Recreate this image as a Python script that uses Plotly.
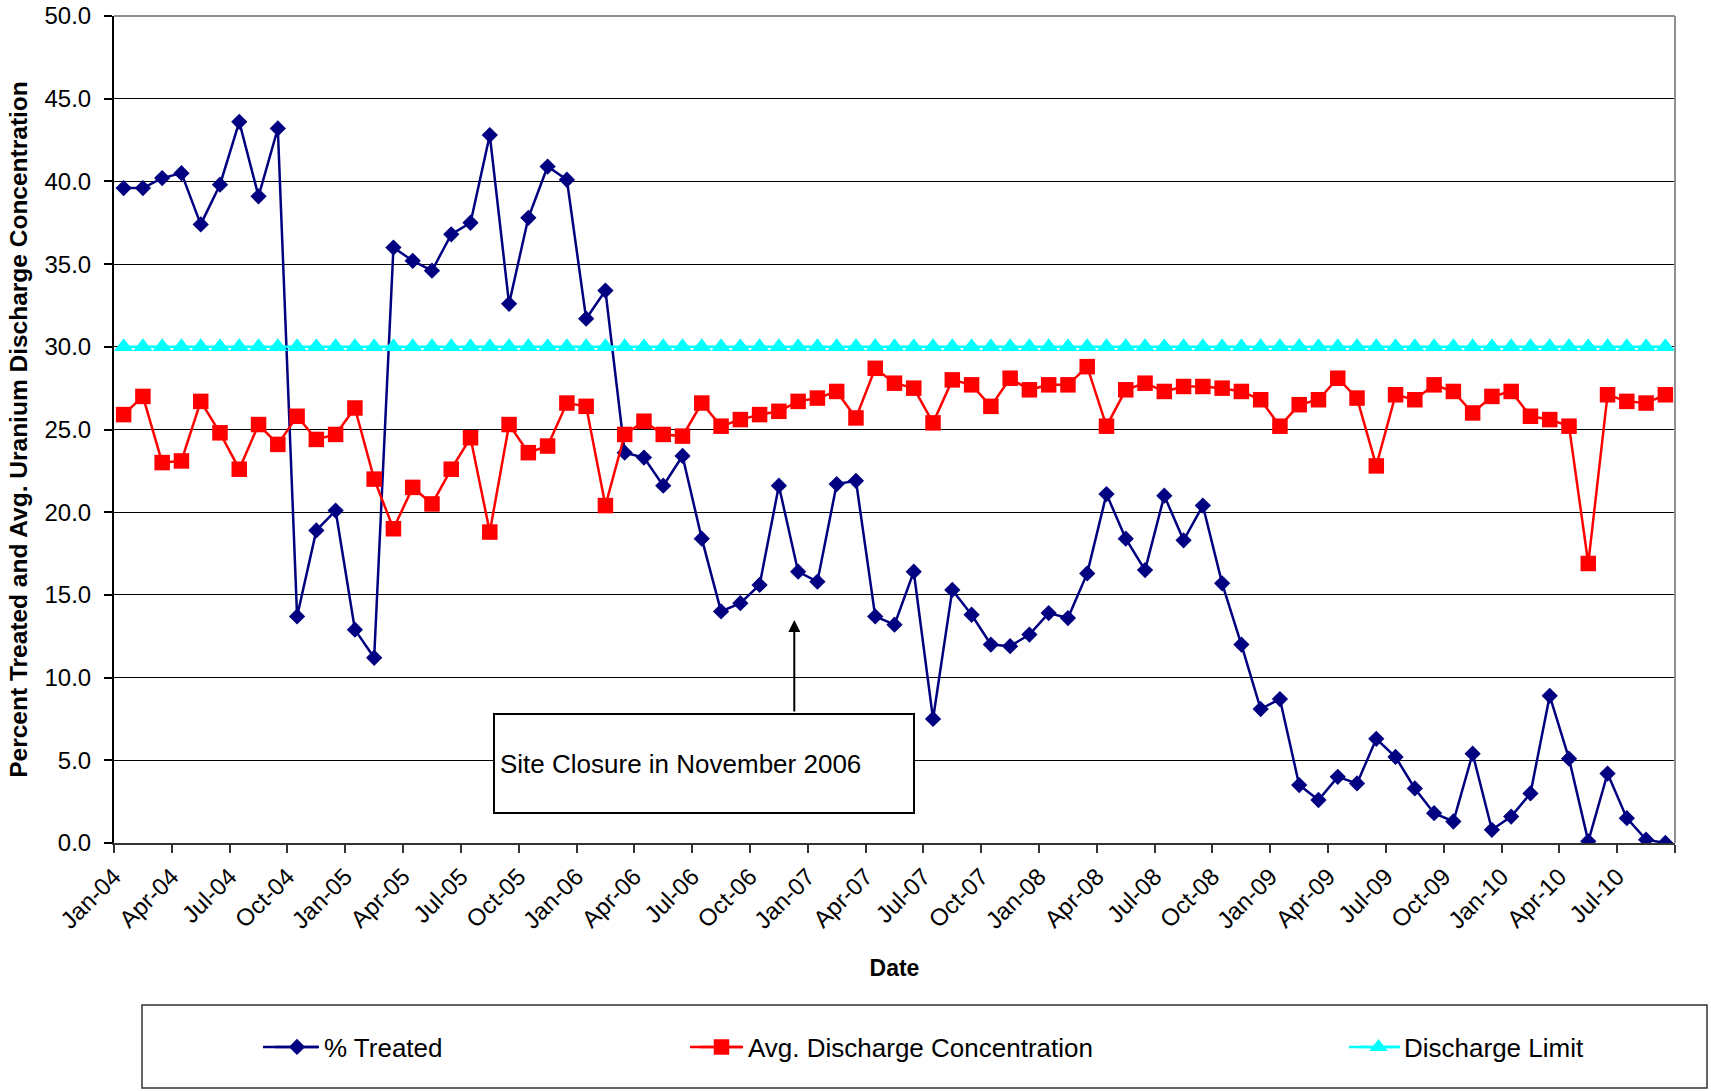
import plotly.graph_objects as go

# Monthly series, Jan-04 through Sep-10
pct_treated = [
    39.6, 39.6, 40.2, 40.5, 37.4, 39.8, 43.6, 39.1, 43.2, 13.7, 18.9, 20.1,
    12.9, 11.2, 36.0, 35.2, 34.6, 36.8, 37.5, 42.8, 32.6, 37.8, 40.9, 40.1,
    31.7, 33.4, 23.6, 23.3, 21.6, 23.4, 18.4, 14.0, 14.5, 15.6, 21.6, 16.4,
    15.8, 21.7, 21.9, 13.7, 13.2, 16.4, 7.5, 15.3, 13.8, 12.0, 11.9, 12.6,
    13.9, 13.6, 16.3, 21.1, 18.4, 16.5, 21.0, 18.3, 20.4, 15.7, 12.0, 8.1,
    8.7, 3.5, 2.6, 4.0, 3.6, 6.3, 5.2, 3.3, 1.8, 1.3, 5.4, 0.8,
    1.6, 3.0, 8.9, 5.1, 0.1, 4.2, 1.5, 0.2, 0.0,
]
avg_discharge = [
    25.9, 27.0, 23.0, 23.1, 26.7, 24.8, 22.6, 25.3, 24.1, 25.8, 24.4, 24.7,
    26.3, 22.0, 19.0, 21.5, 20.5, 22.6, 24.5, 18.8, 25.3, 23.6, 24.0, 26.6,
    26.4, 20.4, 24.7, 25.5, 24.7, 24.6, 26.6, 25.2, 25.6, 25.9, 26.1, 26.7,
    26.9, 27.3, 25.7, 28.7, 27.8, 27.5, 25.4, 28.0, 27.7, 26.4, 28.1, 27.4,
    27.7, 27.7, 28.8, 25.2, 27.4, 27.8, 27.3, 27.6, 27.6, 27.5, 27.3, 26.8,
    25.2, 26.5, 26.8, 28.1, 26.9, 22.8, 27.1, 26.8, 27.7, 27.3, 26.0, 27.0,
    27.3, 25.8, 25.6, 25.2, 16.9, 27.1, 26.7, 26.6, 27.1,
]
discharge_limit = [30.0] * len(pct_treated)

# Quarterly tick labels on the category boundaries
tick_labels = [
    "Jan-04", "Apr-04", "Jul-04", "Oct-04", "Jan-05", "Apr-05", "Jul-05",
    "Oct-05", "Jan-06", "Apr-06", "Jul-06", "Oct-06", "Jan-07", "Apr-07",
    "Jul-07", "Oct-07", "Jan-08", "Apr-08", "Jul-08", "Oct-08", "Jan-09",
    "Apr-09", "Jul-09", "Oct-09", "Jan-10", "Apr-10", "Jul-10",
]

# Closure marker position (month index, value) and the callout box
closure_month = 34.8
closure_tip = 13.48
closure_tail = 7.86
closure_text = "Site Closure in November 2006"

months = list(range(len(pct_treated)))
tick_vals = [3 * k - 0.5 for k in range(len(tick_labels))] + [len(months) - 0.5]
tick_text = tick_labels + [""]

FONT = "Liberation Sans, Arial, sans-serif"
NAVY, RED, CYAN = "#000080", "#FF0000", "#00FFFF"

fig = go.Figure()
fig.add_trace(go.Scatter(
    x=months, y=pct_treated, name="% Treated", mode="lines+markers",
    line=dict(color=NAVY, width=2.5),
    marker=dict(symbol="diamond", size=12.5, color=NAVY),
    legend="legend",
))
fig.add_trace(go.Scatter(
    x=months, y=avg_discharge, name="Avg. Discharge Concentration",
    mode="lines+markers",
    line=dict(color=RED, width=2.5),
    marker=dict(symbol="square", size=15.5, color=RED),
    legend="legend2",
))
fig.add_trace(go.Scatter(
    x=months, y=discharge_limit, name="Discharge Limit", mode="lines+markers",
    line=dict(color=CYAN, width=2.5),
    marker=dict(symbol="triangle-up", size=17, color=CYAN),
    legend="legend3",
))

L, R, T, B = 114, 36, 16, 248
W, H = 1711, 1091
pw, ph = W - L - R, H - T - B
LEG_Y = 1047


def px_x(px):
    return (px - L) / pw


def px_y(py):
    return (H - B - py) / ph


legend_common = dict(
    orientation="h", yanchor="middle", xanchor="left",
    xref="container", yref="container",
    y=1 - LEG_Y / H, bgcolor="rgba(0,0,0,0)", borderwidth=0,
    font=dict(family=FONT, size=26, color="black"),
)

fig.update_layout(
    width=W, height=H,
    margin=dict(l=L, r=R, t=T, b=B, pad=0, autoexpand=False),
    paper_bgcolor="white", plot_bgcolor="white",
    font=dict(family=FONT, color="black"),
    showlegend=True,
    legend=dict(legend_common, x=270 / W, itemwidth=44),
    legend2=dict(legend_common, x=695 / W, itemwidth=43),
    legend3=dict(legend_common, x=1353 / W, itemwidth=41),
    xaxis=dict(
        range=[-0.5, len(months) - 0.5], automargin=False,
        tickmode="array", tickvals=tick_vals, ticktext=tick_text,
        tickangle=-45, ticks="outside", ticklen=8, tickwidth=1.5,
        tickcolor="#333", showgrid=False, zeroline=False,
        showline=True, linecolor="#333", linewidth=2,
        tickfont=dict(family=FONT, size=24, color="black"),
        title=dict(text="<b>Date</b>", standoff=27,
                   font=dict(family=FONT, size=23, color="black")),
    ),
    yaxis=dict(
        range=[0, 50], dtick=5, tick0=0, tickformat=".1f", automargin=False,
        ticks="outside", ticklen=8, tickwidth=1.5, tickcolor="black",
        showgrid=True, gridcolor="black", gridwidth=1, zeroline=False,
        showline=True, linecolor="black", linewidth=2,
        ticklabelstandoff=8,
        tickfont=dict(family=FONT, size=24, color="black"),
        title=dict(
            text="<b>Percent Treated and Avg. Uranium Discharge Concentration</b>",
            standoff=10, font=dict(family=FONT, size=24.5, color="black")),
    ),
)

# Grey plot-area border on top and right
fig.add_shape(type="line", xref="paper", yref="paper", x0=0, x1=1, y0=1, y1=1,
              line=dict(color="#909090", width=2))
fig.add_shape(type="line", xref="paper", yref="paper", x0=1, x1=1, y0=0, y1=1,
              line=dict(color="#909090", width=2))

# Legend frame and full-length legend swatch lines
fig.add_shape(type="rect", xref="paper", yref="paper",
              x0=px_x(142), x1=px_x(1707), y0=px_y(1088), y1=px_y(1005),
              line=dict(color="#333", width=1.5), fillcolor="rgba(0,0,0,0)",
              layer="below")
for color, (x0, x1) in ((NAVY, (263, 318)), (RED, (690, 742)),
                        (CYAN, (1349, 1400))):
    fig.add_shape(type="line", xref="paper", yref="paper",
                  x0=px_x(x0), x1=px_x(x1), y0=px_y(LEG_Y), y1=px_y(LEG_Y),
                  line=dict(color=color, width=2.5), layer="below")

# Arrow pointing at the closure month
fig.add_annotation(
    x=closure_month, y=closure_tip, ax=closure_month, ay=closure_tail,
    xref="x", yref="y", axref="x", ayref="y", text="",
    showarrow=True, arrowhead=2, arrowsize=1.2, arrowwidth=2,
    arrowcolor="black", standoff=0, startstandoff=0,
)
# Callout box
fig.add_annotation(
    x=px_x(493), y=px_y(713), xref="paper", yref="paper",
    xanchor="left", yanchor="top", showarrow=False,
    text=closure_text, align="left", valign="middle",
    width=408, height=87, borderpad=5, borderwidth=2,
    bordercolor="black", bgcolor="white",
    font=dict(family=FONT, size=26, color="black"),
)

fig.write_html("out.html")
